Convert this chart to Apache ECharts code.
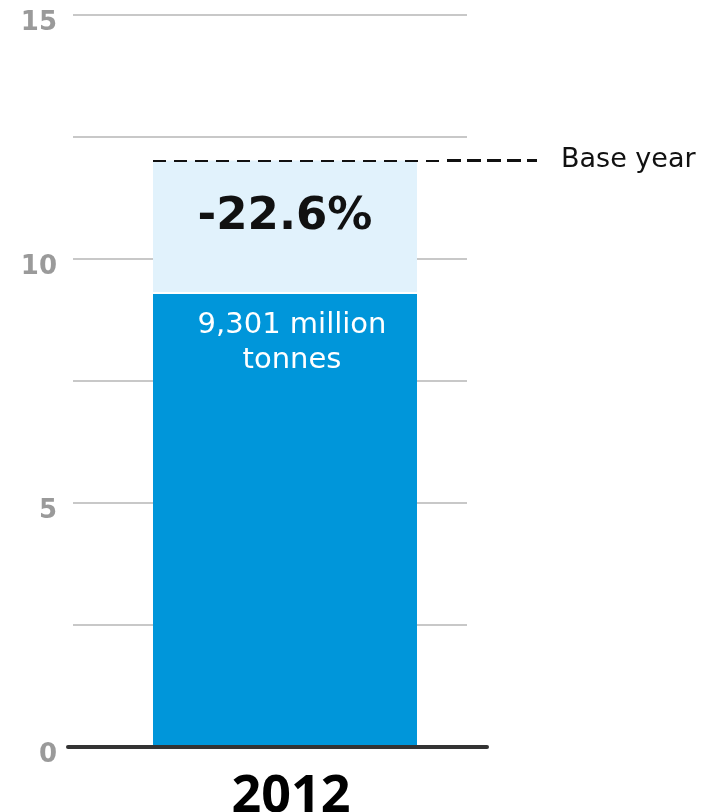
<!DOCTYPE html>
<html><head><meta charset="utf-8">
<script src="https://cdn.jsdelivr.net/npm/echarts@6/dist/echarts.min.js"></script>
<style>html,body{margin:0;padding:0;background:#fff}#c{width:712px;height:812px}</style>
</head><body><div id="c"></div>
<script>
// ---- data ----
const categories = ['2012'];
const emissions = [9.301];      // billion tonnes, labelled "9,301 million tonnes"
const baseYear = [12.02];       // base-year level (dashed line / top of light bar)
const changePct = [-22.6];
const yTickLabels = [0, 5, 10, 15];
const baseLabel = 'Base year';

// ---- layout ----
const TOP = 15, BOTTOM = 65;
const SANS = "'DejaVu Sans', sans-serif";
const OPEN = "'Open Sans', sans-serif";

const chart = echarts.init(document.getElementById('c'), null, {renderer: 'canvas'});
const hiddenY = i => ({type: 'value', gridIndex: i, min: 0, max: 15, show: false});
const hiddenX = i => ({type: 'category', gridIndex: i, data: categories, show: false});
const g = (left, width) => ({left, width, top: TOP, bottom: BOTTOM, containLabel: false, outerBoundsMode: 'none'});

const option = {
  animation: false,
  grid: [
    g(73, 394),   // gridlines + y labels
    g(68, 419),   // baseline
    g(153, 264),  // bars
    g(153, 294),  // thin dashes
    g(447, 90)    // thick dashes + label
  ],
  xAxis: [
    hiddenX(0),
    {type: 'category', gridIndex: 1, data: categories, z: 10,
      axisLine: {show: true, lineStyle: {color: '#333', width: 4}},
      axisTick: {show: false}, axisLabel: {show: false}},
    {type: 'category', gridIndex: 2, data: categories,
      axisLine: {show: false}, axisTick: {show: false},
      axisLabel: {color: '#000', fontSize: 52, fontWeight: 'bold', fontFamily: OPEN, margin: 24,
        padding: [0, 0, 0, 12]}},
    hiddenX(3), hiddenX(4)
  ],
  yAxis: [
    {type: 'value', gridIndex: 0, min: 0, max: 15, interval: 2.5,
      axisLine: {show: false}, axisTick: {show: false},
      splitLine: {lineStyle: {color: '#c8c8c8', width: 2}},
      axisLabel: {formatter: v => yTickLabels.includes(v) ? String(v) : '',
        color: '#9a9a9a', fontSize: 26, fontWeight: 'bold', fontFamily: SANS, margin: 16,
        verticalAlign: 'top', lineHeight: 16}},
    hiddenY(1), hiddenY(2), hiddenY(3), hiddenY(4)
  ],
  series: [
    {type: 'bar', xAxisIndex: 2, yAxisIndex: 2, data: baseYear, barWidth: '100%',
      itemStyle: {color: '#e1f2fc'},
      label: {show: true, position: 'insideTop', distance: 34,
        formatter: p => changePct[p.dataIndex].toFixed(1) + '%',
        color: '#111', fontSize: 45, fontWeight: 'bold', fontFamily: SANS}},
    {type: 'bar', xAxisIndex: 2, yAxisIndex: 2, data: emissions, barWidth: '100%', barGap: '-100%',
      itemStyle: {color: '#0096da'},
      label: {show: true, position: 'insideTop', distance: 15, lineHeight: 35,
        padding: [0, 0, 0, 14],
        formatter: p => p.value.toFixed(3).replace('.', ',') + ' million\ntonnes',
        color: '#fff', fontSize: 29, fontFamily: SANS}},
    {type: 'line', xAxisIndex: 2, yAxisIndex: 2, data: ['-'], symbol: 'none',
      markLine: {silent: true, symbol: 'none', label: {show: false},
        lineStyle: {color: '#fff', width: 2, type: 'solid'},
        data: [{yAxis: emissions[0]}]}},
    {type: 'line', xAxisIndex: 3, yAxisIndex: 3, data: ['-'], symbol: 'none',
      markLine: {silent: true, symbol: 'none', label: {show: false},
        lineStyle: {color: '#111', width: 2, type: [13, 8]},
        data: [{yAxis: baseYear[0]}]}},
    {type: 'line', xAxisIndex: 4, yAxisIndex: 4, data: ['-'], symbol: 'none',
      markLine: {silent: true, symbol: 'none',
        label: {show: true, position: 'end', distance: 24, formatter: baseLabel,
          color: '#111', fontSize: 27, fontFamily: SANS},
        lineStyle: {color: '#111', width: 3, type: [14, 6]},
        data: [{yAxis: baseYear[0]}]}}
  ]
};
chart.setOption(option);
</script></body></html>
